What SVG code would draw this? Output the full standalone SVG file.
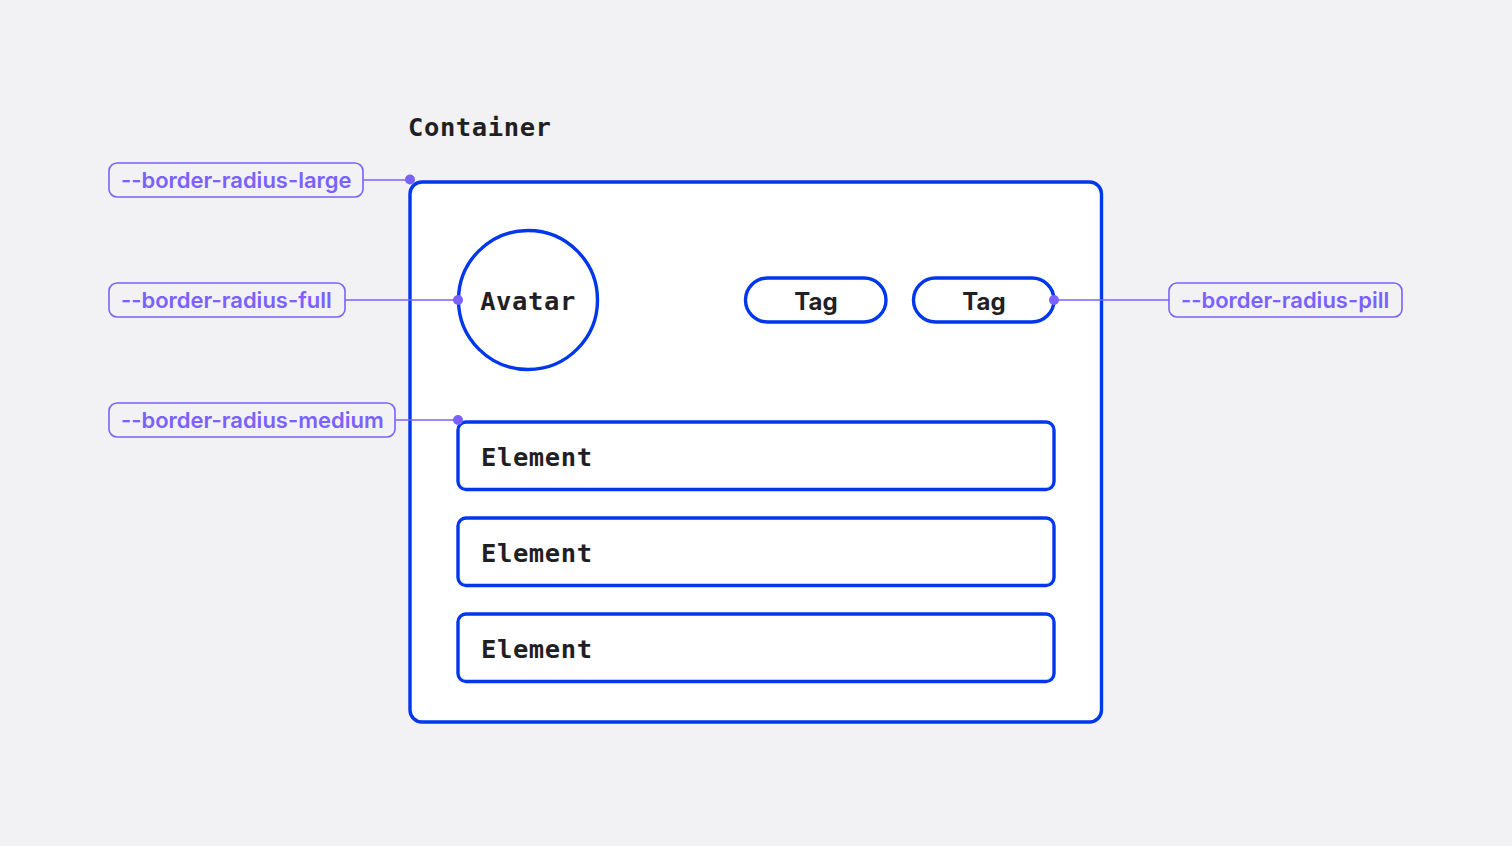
<svg xmlns="http://www.w3.org/2000/svg" width="1512" height="846" viewBox="0 0 1512 846">
<style>
.bg{fill:#f2f2f4}
.box{fill:#ffffff;stroke:#0037eb;stroke-width:3.4}
.mono{font-family:"DejaVu Sans Mono","Liberation Mono",monospace;font-weight:bold;font-size:25.5px;fill:#1f1f24;letter-spacing:0.6px}
.tag{font-family:Inter,"Noto Sans","Liberation Sans",sans-serif;font-weight:700;font-size:24px;fill:#1f1f24;text-anchor:middle}
.lbl{fill:none;stroke:#7b61ff;stroke-width:1.6}
.lbltext{font-family:Inter,"Noto Sans","Liberation Sans",sans-serif;font-weight:600;font-size:22px;fill:#7b61ff}
.conn{stroke:#7b61ff;stroke-width:1.6;fill:none}
.dot{fill:#7b61ff}
</style>
<rect class="bg" x="0" y="0" width="1512" height="846"/>
<g id="container">
  <text class="mono" x="408" y="136">Container</text>
  <rect class="box" x="410" y="182" width="691.5" height="540" rx="12"/>
</g>
<g id="avatar">
  <circle class="box" cx="528" cy="300" r="69.5"/>
  <text class="mono" x="528" y="310" text-anchor="middle">Avatar</text>
</g>
<g id="tag1">
  <rect class="box" x="745.5" y="278" width="140.5" height="44" rx="22"/>
  <text class="tag" x="816" y="310">Tag</text>
</g>
<g id="tag2">
  <rect class="box" x="913.5" y="278" width="140.5" height="44" rx="22"/>
  <text class="tag" x="984" y="310">Tag</text>
</g>
<g id="element1">
  <rect class="box" x="458" y="422" width="596" height="67.5" rx="8"/>
  <text class="mono" x="481" y="466">Element</text>
</g>
<g id="element2">
  <rect class="box" x="458" y="518" width="596" height="67.5" rx="8"/>
  <text class="mono" x="481" y="562">Element</text>
</g>
<g id="element3">
  <rect class="box" x="458" y="614" width="596" height="67.5" rx="8"/>
  <text class="mono" x="481" y="658">Element</text>
</g>
<g id="label-large">
  <rect class="lbl" x="109" y="163" width="254" height="34" rx="8"/>
  <text class="lbltext" x="121" y="188">--border-radius-large</text>
</g>
<g id="label-full">
  <rect class="lbl" x="109" y="283" width="236" height="34" rx="8"/>
  <text class="lbltext" x="121" y="308">--border-radius-full</text>
</g>
<g id="label-medium">
  <rect class="lbl" x="109" y="403" width="286" height="34" rx="8"/>
  <text class="lbltext" x="121" y="428">--border-radius-medium</text>
</g>
<g id="label-pill">
  <rect class="lbl" x="1169" y="283" width="233" height="34" rx="8"/>
  <text class="lbltext" x="1181" y="308">--border-radius-pill</text>
</g>
<g id="connectors">
  <line class="conn" x1="363" y1="180" x2="410" y2="180"/>
  <circle class="dot" cx="410" cy="179.5" r="5"/>
  <line class="conn" x1="345" y1="300" x2="458" y2="300"/>
  <circle class="dot" cx="458" cy="300" r="5"/>
  <line class="conn" x1="395" y1="420" x2="458" y2="420"/>
  <circle class="dot" cx="458" cy="420" r="5"/>
  <line class="conn" x1="1054" y1="300" x2="1169" y2="300"/>
  <circle class="dot" cx="1054" cy="300" r="5"/>
</g>
</svg>
